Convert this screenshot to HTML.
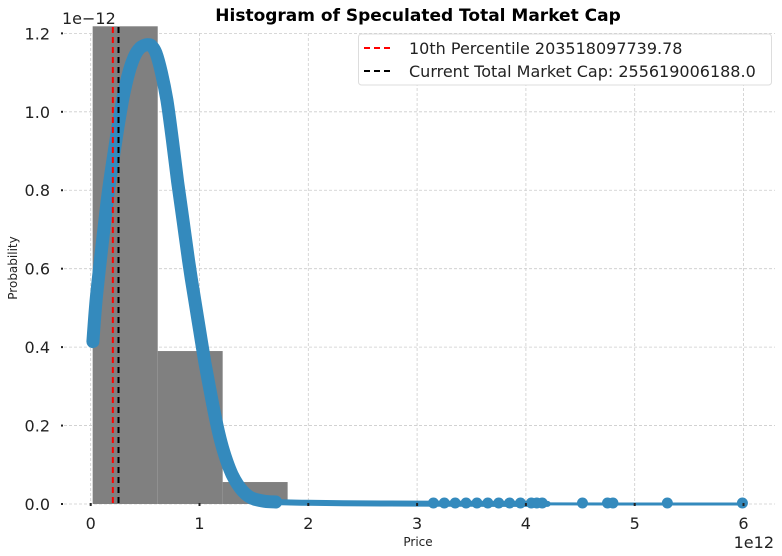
<!DOCTYPE html>
<html><head><meta charset="utf-8"><style>
html,body{margin:0;padding:0;background:#fff;}
svg{display:block;font-family:"DejaVu Sans","Liberation Sans",sans-serif;}
</style></head><body>
<svg id="chart" width="782" height="556" viewBox="0 0 782 556">
<g id="grid"></g>
<g id="bars"></g>
<g id="curve"></g>
<g id="vlines"></g>
<g id="axes"></g>
<text x="418" y="21" text-anchor="middle" font-size="17" font-weight="bold" fill="#000">Histogram of Speculated Total Market Cap</text>
<text x="418" y="546" text-anchor="middle" font-size="12" fill="#222">Price</text>
<text x="17" y="268" text-anchor="middle" font-size="12" fill="#222" transform="rotate(-90 17 268)">Probability</text>
<text x="62" y="24" font-size="16" fill="#222">1e−12</text>
<text x="774" y="548" text-anchor="end" font-size="16" fill="#222">1e12</text>
<g>
<rect x="358.5" y="34" width="413" height="51" rx="3" fill="#fff" stroke="#ddd"/>
<line x1="364" y1="48" x2="393" y2="48" stroke="#f00" stroke-width="2" stroke-dasharray="6,4"/>
<text x="409" y="54" font-size="16" fill="#222">10th Percentile 203518097739.78</text>
<line x1="364" y1="71" x2="393" y2="71" stroke="#000" stroke-width="2" stroke-dasharray="6,4"/>
<text x="409" y="77" font-size="16" fill="#222">Current Total Market Cap: 255619006188.0</text>
</g>
</svg>
<script>
const binEdges=[0.018,0.616,1.213,1.81,2.408,3.006,3.603,4.201,4.799,5.396,5.994];
const binHeights=[1.218,0.39,0.056,0.004,0.002,0.002,0.0015,0.001,0.0008,0.0005];
const curveX=[0.02,0.05,0.1,0.15,0.2,0.25,0.3,0.35,0.4,0.45,0.5,0.53,0.56,0.6,0.65,0.7,0.75,0.8,0.85,0.9,0.95,1.0,1.05,1.1,1.15,1.2,1.25,1.3,1.35,1.4,1.45,1.5,1.6,1.7,1.8,2.0,2.5,3.0,3.5,4.0,4.2,5,6];
const curveY=[0.414,0.52,0.65,0.77,0.87,0.96,1.04,1.10,1.14,1.162,1.17,1.171,1.168,1.15,1.10,1.03,0.93,0.82,0.72,0.62,0.53,0.445,0.36,0.285,0.215,0.155,0.11,0.075,0.05,0.032,0.02,0.013,0.007,0.005,0.004,0.003,0.0015,0.001,0.0005,0.0003,0.0002,0,0];
const tailDots=[3.15,3.25,3.35,3.45,3.55,3.65,3.75,3.85,3.95,4.05,4.1,4.15,4.52,4.75,4.8,5.3,5.99];
const xTicks=[0,1,2,3,4,5,6];
const yTicks=[0,0.2,0.4,0.6,0.8,1.0,1.2];
const percentile10=0.2035;
const currentCap=0.2556;
const NS="http://www.w3.org/2000/svg";
const X0=90.7,XS=108.8,Y0=504,YS=392.2,L=64,R=775,T=33;
function sx(v){return X0+v*XS;}
function sy(v){return Y0-v*YS;}
function mk(tag,attrs,parent){const e=document.createElementNS(NS,tag);for(const k in attrs)e.setAttribute(k,attrs[k]);parent.appendChild(e);return e;}
function smooth(pts){let d='M'+pts[0][0].toFixed(1)+','+pts[0][1].toFixed(1);for(let i=0;i<pts.length-1;i++){const p0=pts[Math.max(0,i-1)],p1=pts[i],p2=pts[i+1],p3=pts[Math.min(pts.length-1,i+2)];const c1=[p1[0]+(p2[0]-p0[0])/6,p1[1]+(p2[1]-p0[1])/6],c2=[p2[0]-(p3[0]-p1[0])/6,p2[1]-(p3[1]-p1[1])/6];d+=' C'+c1[0].toFixed(1)+','+c1[1].toFixed(1)+' '+c2[0].toFixed(1)+','+c2[1].toFixed(1)+' '+p2[0].toFixed(1)+','+p2[1].toFixed(1);}return d;}
const grid=document.getElementById('grid'),axes=document.getElementById('axes');
xTicks.forEach(t=>{
 const g=mk('line',{x1:sx(t),x2:sx(t),y1:T,y2:Y0,stroke:'#ccc','stroke-width':0.8,'stroke-dasharray':'3,2'},grid);
 
 
 const tx=mk('text',{x:sx(t),y:529,'text-anchor':'middle','font-size':16,fill:'#222'},axes);
 tx.textContent=t;
 
 
});
yTicks.forEach(t=>{
 const g=mk('line',{x1:L,x2:R,y1:sy(t),y2:sy(t),stroke:'#ccc','stroke-width':0.8,'stroke-dasharray':'3,2'},grid);
 
 
 const tk=mk('rect',{x:61,y:sy(t)-1,width:2,height:2,fill:'#222'},axes);
 
 
 const tx=mk('text',{x:50,y:sy(t)+6,'text-anchor':'end','font-size':16,fill:'#222'},axes);
 tx.textContent=t.toFixed(1);
 
 
});
const bars=document.getElementById('bars');
binHeights.forEach((h,i)=>{
 const b=mk('rect',{x:sx(binEdges[i]),y:sy(h),width:sx(binEdges[i+1])-sx(binEdges[i]),height:Y0-sy(h),fill:'#808080'},bars);
 
 
});
const curve=document.getElementById('curve');
const main=[],tail=[],mid=[];
curveX.forEach((x,i)=>{const p=[sx(x),sy(curveY[i])];if(x<=1.7)main.push(p);if(x>=1.6)tail.push(p);if(x>=1.6&&x<=4.2)mid.push(p);});
const thin=mk('path',{d:smooth(tail),fill:'none',stroke:'#348abd','stroke-width':3},curve);


const tailThick=mk('path',{d:smooth(mid),fill:'none',stroke:'#348abd','stroke-width':6,'stroke-linecap':'round'},curve);


const thick=mk('path',{d:smooth(main),fill:'none',stroke:'#348abd','stroke-width':13,'stroke-linecap':'round','stroke-linejoin':'round'},curve);


tailDots.forEach(x=>{
 const c=mk('circle',{cx:sx(x),cy:Y0-1,r:5.5,fill:'#348abd'},curve);
 
 
});
const vl=document.getElementById('vlines');
const r=mk('line',{x1:sx(percentile10),x2:sx(percentile10),y1:27,y2:Y0,stroke:'#f00','stroke-width':2,'stroke-dasharray':'6,4'},vl);


const k=mk('line',{x1:sx(currentCap),x2:sx(currentCap),y1:27,y2:Y0,stroke:'#000','stroke-width':2,'stroke-dasharray':'6,4'},vl);


xTicks.forEach(t=>{
 const tk=mk('rect',{x:sx(t)-1,y:Y0-1,width:2,height:3,fill:'#222'},axes);
 
 
});
</script>
</body></html>
